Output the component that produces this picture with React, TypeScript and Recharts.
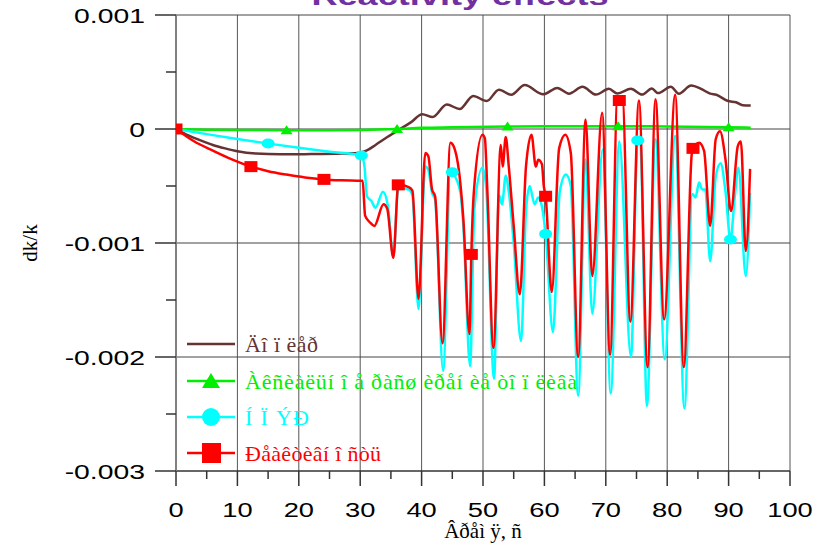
import React from "react"
import { LineChart, Line, XAxis, YAxis, ReferenceLine, Label } from "recharts"

// dk/k values are kept in units of 1e-3
const dopplerT = [0, 2, 4, 6, 8, 10, 13, 17, 22, 27, 29.5, 31, 32.5, 34, 35.5, 36.8, 38.3, 40.1, 41.8, 44.1, 46.2, 48.4, 50.6, 52.6, 54.6, 56.8, 59.8, 62.1, 64, 66.2, 68.4, 70.5, 71.9, 74.1, 75.9, 77.5, 78.5, 80.6, 81.9, 83.9, 85.5, 87, 88, 89.9, 91.2, 92.3, 93.6]
const dopplerV = [0, -0.055, -0.1, -0.14, -0.17, -0.195, -0.215, -0.222, -0.22, -0.215, -0.21, -0.19, -0.14, -0.085, -0.035, 0.01, 0.06, 0.13, 0.105, 0.215, 0.175, 0.29, 0.245, 0.345, 0.3, 0.385, 0.305, 0.36, 0.31, 0.37, 0.302, 0.352, 0.311, 0.352, 0.302, 0.355, 0.315, 0.37, 0.31, 0.381, 0.352, 0.31, 0.3, 0.245, 0.235, 0.208, 0.206]

const axialT = [0, 5, 10, 18, 25, 30, 36, 40, 45, 54, 60, 66, 72, 80, 90, 93.6]
const axialV = [0, -0.006, -0.009, -0.01, -0.01, -0.008, 0, 0.01, 0.015, 0.022, 0.025, 0.025, 0.025, 0.022, 0.015, 0.012]
const axialMarks = [0, 18, 36, 54, 72, 90]

const npzrT = [0, 5, 10, 15, 20, 25, 30.2, 30.7, 31.1, 31.8, 32.5, 33.7, 34.5, 35.4, 36.2, 37.9, 38.5, 39.5, 40.6, 41.1, 41.7, 42.2, 43.5, 44.7, 45, 46.3, 46.8, 47.9, 48.6, 49.9, 50.5, 51.8, 52.6, 53.1, 53.7, 54.2, 55, 56.2, 57, 57.6, 58.4, 59, 59.6, 60.2, 61.4, 62.5, 63.5, 64.3, 65.5, 66.7, 67.8, 69.5, 70.8, 72.2, 74.1, 75.2, 75.6, 76.7, 78.1, 79.6, 81.3, 82.8, 84.1, 84.6, 85.2, 85.7, 86.2, 87, 87.9, 88.7, 89.5, 90.3, 91, 91.6, 92.8, 93.5]
const npzrV = [0, -0.045, -0.088, -0.127, -0.165, -0.2, -0.232, -0.33, -0.59, -0.63, -0.69, -0.55, -0.67, -1.12, -0.52, -0.53, -0.58, -1.58, -0.33, -0.36, -0.56, -0.62, -2.12, -0.36, -0.38, -0.55, -0.85, -2.08, -0.7, -0.34, -0.5, -2.19, -0.58, -0.66, -0.41, -0.55, -1.0, -1.86, -0.72, -0.5, -0.66, -0.6, -0.68, -0.92, -1.78, -0.55, -0.4, -0.5, -2.34, -0.27, -1.62, -0.18, -2.32, -0.11, -2.0, -0.1, -0.1, -2.43, -0.09, -2.02, -0.06, -2.45, -0.57, -0.6, -0.47, -0.53, -0.53, -1.16, -0.42, -0.3, -0.55, -0.97, -0.6, -0.34, -1.29, -0.56]
const npzrMarks = [0, 15, 30.2, 45, 60.2, 75.2, 90.3]

const reactT = [0, 3, 6, 9, 12.2, 15, 18, 21, 24.1, 27, 30.4, 30.8, 31.6, 32.3, 33.8, 34.4, 35.4, 36.2, 37.9, 38.5, 39.5, 40.6, 41.1, 41.7, 42.2, 43.4, 44.7, 45.2, 46.3, 46.8, 47.8, 48.1, 48.5, 49.9, 50.3, 50.7, 51.7, 52.9, 53.2, 53.7, 54.2, 55, 56, 57, 57.9, 58.6, 59, 59.6, 59.9, 60.2, 61.2, 62.4, 63.4, 64.3, 65.5, 66.7, 67.8, 69.4, 70.7, 71.9, 72.2, 72.7, 74, 75.4, 76.8, 78.1, 79.5, 81.3, 82.7, 84, 84.2, 85.2, 86, 87, 87.9, 88.6, 89.5, 90.4, 91.5, 92, 92.8, 93.5]
const reactV = [0, -0.11, -0.19, -0.265, -0.33, -0.37, -0.4, -0.425, -0.442, -0.45, -0.455, -0.76, -0.82, -0.85, -0.66, -0.7, -1.13, -0.49, -0.51, -0.54, -1.49, -0.21, -0.24, -0.53, -0.59, -1.88, -0.12, -0.15, -0.47, -0.79, -1.8, -1.1, -0.56, -0.05, -0.08, -0.53, -1.92, -0.14, -0.33, -0.07, -0.33, -0.85, -1.45, -0.33, -0.05, -0.33, -0.27, -0.31, -0.5, -0.59, -1.43, -0.17, -0.05, -0.21, -2.0, 0.083, -1.29, 0.142, -1.98, 0.27, 0.25, 0.26, -1.69, 0.25, -2.09, 0.26, -1.67, 0.3, -2.09, -0.22, -0.17, -0.12, -0.19, -0.85, -0.09, -0.02, -0.27, -0.72, -0.15, -0.11, -1.07, -0.35]
const reactMarks = [0, 12.2, 24.1, 36.2, 48.1, 60.2, 72.2, 84.2]

const xTicks = [0, 5, 10, 15, 20, 25, 30, 35, 40, 45, 50, 55, 60, 65, 70, 75, 80, 85, 90, 95, 100]
const yTicks = [-3, -2.5, -2, -1.5, -1, -0.5, 0, 0.5, 1]
const xGrid = [10, 20, 30, 40, 50, 60, 70, 80, 90, 100]
const yGrid = [-2, -1, 0, 1]

const legendLabels = ["Äî ï ëåð", "Àêñèàëüí î å ðàñø èðåí èå òî ï ëèâà", "Í Ï ÝÐ", "Ðåàêòèâí î ñòü"]
const legendWidths = [73, 332, 64, 136]

const BROWN = "#663333"
const GREEN = "#00ee00"
const CYAN = "#00ffff"
const RED = "#ff0000"

const sans = "'Liberation Sans', Arial, sans-serif"
const serif = "'Liberation Serif', 'Times New Roman', serif"

const toPoints = (t: number[], v: number[]) => t.map((x, i) => ({ t: x, v: v[i] }))

const dopplerData = toPoints(dopplerT, dopplerV)
const axialData = toPoints(axialT, axialV)
const npzrData = toPoints(npzrT, npzrV)
const reactData = toPoints(reactT, reactV)

const fmtY = (v: number) => String(v / 1000)

const XTick = ({ x, y, payload }: any) => {
  const major = payload.value % 10 === 0
  return (
    <g>
      <line x1={x} y1={y} x2={x} y2={y + (major ? 15 : 8)} stroke="#333" strokeWidth={1.5} />
      {major && (
        <g transform={`translate(${x},${y + 46}) scale(1.3,1)`}>
          <text textAnchor="middle" fontSize={21} fontFamily={sans} fill="#000">
            {payload.value}
          </text>
        </g>
      )}
    </g>
  )
}

const YTick = ({ x, y, payload }: any) => {
  const major = Number.isInteger(payload.value)
  return (
    <g>
      <line x1={x - (major ? 21 : 10)} y1={y} x2={x} y2={y} stroke="#333" strokeWidth={1.5} />
      {major && (
        <g transform={`translate(${x - 31},${y + 7.5}) scale(1.35,1)`}>
          <text textAnchor="end" fontSize={21} fontFamily={sans} fill="#000">
            {fmtY(payload.value)}
          </text>
        </g>
      )}
    </g>
  )
}

// markers only at the listed times, the rest of the points stay bare
const markerDot = (marks: number[], kind: string, color: string) => (p: any) => {
  const key = `dot-${p.index}`
  if (!marks.includes(p.payload.t)) return <g key={key} />
  if (kind === "square") return <rect key={key} x={p.cx - 6.5} y={p.cy - 5.5} width={13} height={11} fill={color} />
  if (kind === "circle") return <ellipse key={key} cx={p.cx} cy={p.cy} rx={6.5} ry={5} fill={color} />
  return <path key={key} d={`M${p.cx - 6},${p.cy + 4} L${p.cx + 6},${p.cy + 4} L${p.cx},${p.cy - 5} Z`} fill={color} />
}

const LegendSymbol = ({ kind, color, y }: { kind: string; color: string; y: number }) => (
  <g>
    <line x1={187} y1={y} x2={235} y2={y} stroke={color} strokeWidth={2.5} />
    {kind === "square" && <rect x={202} y={y - 10} width={19} height={20} fill={color} />}
    {kind === "circle" && <ellipse cx={211} cy={y} rx={9} ry={9} fill={color} />}
    {kind === "triangle" && <path d={`M202,${y + 7} L220,${y + 7} L211,${y - 8} Z`} fill={color} />}
  </g>
)

export default function App() {
  const legendRows = [
    { kind: "none", color: BROWN, y: 344 },
    { kind: "triangle", color: GREEN, y: 381 },
    { kind: "circle", color: CYAN, y: 417 },
    { kind: "square", color: RED, y: 453 },
  ]

  return (
    <div style={{ position: "absolute", left: 0, top: 0, width: 814, height: 543, background: "#fff" }}>
      <LineChart width={814} height={543} margin={{ top: 15, right: 24, bottom: 0, left: 0 }}>
        <XAxis
          type="number"
          dataKey="t"
          domain={[0, 100]}
          ticks={xTicks}
          interval={0}
          tickSize={0}
          tickMargin={0}
          tick={<XTick />}
          height={72}
          axisLine={{ stroke: "#333", strokeWidth: 1.5 }}
          allowDataOverflow
        >
          <Label
            value="Âðåì ÿ, ñ"
            position="insideBottom"
            offset={5}
            style={{ fontFamily: serif, fontSize: 21, fill: "#000" }}
          />
        </XAxis>
        <YAxis
          type="number"
          domain={[-3, 1]}
          ticks={yTicks}
          interval={0}
          tickSize={0}
          tickMargin={0}
          tick={<YTick />}
          width={176}
          axisLine={{ stroke: "#808080", strokeWidth: 2 }}
          allowDataOverflow
        >
          <Label
            content={({ viewBox }: any) => (
              <text
                x={30}
                y={viewBox.y + viewBox.height / 2}
                transform={`rotate(-90, 30, ${viewBox.y + viewBox.height / 2})`}
                textAnchor="middle"
                dominantBaseline="central"
                fontFamily={serif}
                fontSize={21}
                fill="#000"
              >
                dk/k
              </text>
            )}
          />
        </YAxis>

        {xGrid.map((v) => (
          <ReferenceLine key={`gx${v}`} x={v} stroke="#555" strokeWidth={1} />
        ))}
        {yGrid.map((v) => (
          <ReferenceLine key={`gy${v}`} y={v} stroke="#444" strokeWidth={1} />
        ))}

        <Line data={dopplerData} dataKey="v" type="monotone" stroke={BROWN} strokeWidth={2.5} dot={false} isAnimationActive={false} />
        <Line data={axialData} dataKey="v" type="monotone" stroke={GREEN} strokeWidth={2.5} dot={markerDot(axialMarks, "triangle", GREEN)} isAnimationActive={false} />
        <Line data={npzrData} dataKey="v" type="monotone" stroke={CYAN} strokeWidth={2.5} dot={markerDot(npzrMarks, "circle", CYAN)} isAnimationActive={false} />
        <Line data={reactData} dataKey="v" type="monotone" stroke={RED} strokeWidth={2.5} dot={markerDot(reactMarks, "square", RED)} isAnimationActive={false} />
      </LineChart>

      <svg width={814} height={543} style={{ position: "absolute", left: 0, top: 0, pointerEvents: "none" }}>
        <g transform="translate(460,5) scale(1.39,1)">
          <text textAnchor="middle" fontFamily={sans} fontWeight="bold" fontSize={26} fill="#7030a0">
            Reactivity effects
          </text>
        </g>
        {legendRows.map((r, i) => (
          <g key={legendLabels[i]}>
            {r.kind === "none" ? (
              <line x1={187} y1={r.y} x2={235} y2={r.y} stroke={r.color} strokeWidth={2.5} />
            ) : (
              <LegendSymbol kind={r.kind} color={r.color} y={r.y} />
            )}
            <text
              x={245}
              y={r.y + 8}
              fontFamily={serif}
              fontSize={22}
              fill={r.color}
              textLength={legendWidths[i]}
              lengthAdjust="spacing"
            >
              {legendLabels[i]}
            </text>
          </g>
        ))}
      </svg>
    </div>
  )
}
